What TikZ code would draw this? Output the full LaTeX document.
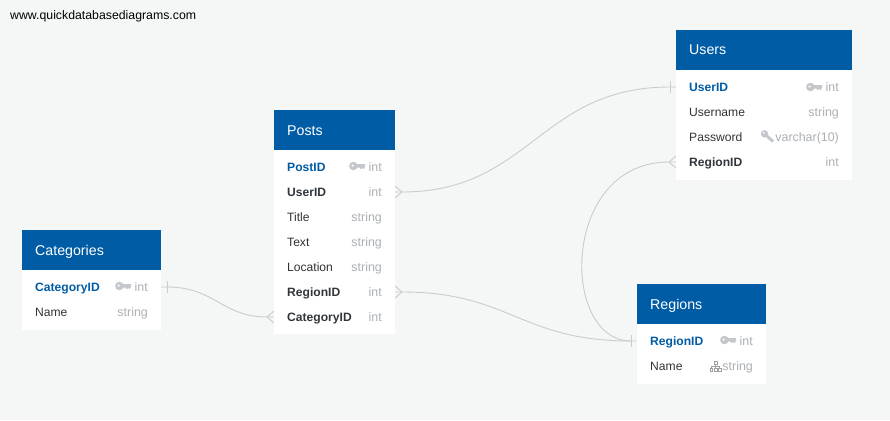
\documentclass[tikz,border=0pt]{standalone}
\usepackage{fontspec}
\setmainfont{Liberation Sans}
\definecolor{bgc}{HTML}{F5F7F7}
\definecolor{hdc}{HTML}{005CA5}
\definecolor{pkc}{HTML}{005CA5}
\definecolor{fkc}{HTML}{30363C}
\definecolor{typec}{HTML}{ABB0B5}
\definecolor{iconc}{HTML}{C4C8CC}
\definecolor{linec}{HTML}{C9CCCB}
\tikzset{
  x=1pt,y=-1pt,
  fs/.style={font=\fontsize{12.1}{14}\selectfont},
  head/.style={fill=hdc,text=white,anchor=north west,inner sep=0pt,outer sep=0pt,align=left},
  tbody/.style={fill=white,anchor=north west,inner sep=0pt,outer sep=0pt},
  fname/.style={fs,anchor=base west,inner sep=0pt,text=black!80},
  fpk/.style={fname,text=pkc,font=\fontsize{12.1}{14}\selectfont\bfseries},
  ffk/.style={fname,text=fkc,font=\fontsize{12.1}{14}\selectfont\bfseries},
  ftype/.style={anchor=base east,inner sep=0pt,text=typec,font=\fontsize{12.4}{14}\selectfont},
  rel/.style={draw=linec,line width=0.9pt},
  foot/.style={draw=linec,line width=0.9pt},
}
\newcommand{\tbl}[6]{% name,x,y,w,bodyh,title
  \node[tbody,minimum width=#4pt,minimum height=#5pt] (#1b) at (#2,#3+40) {};
  \node[head,minimum width=#4pt,minimum height=40pt] (#1h) at (#2,#3) {};
  \node[anchor=base west,inner sep=0pt,text=white,font=\fontsize{14.2}{16}\selectfont] (#1t) at (#2+13,#3+25) {#6};
}
\newcommand{\keyicon}[2]{% at x,y centre
  \fill[iconc,even odd rule] (#1-3.6,#2) circle (4.3) (#1-4.4,#2-0.4) circle (1.4);
  \fill[iconc] (#1-1,#2-2) -- (#1+8,#2-2) -- (#1+8,#2+0.8) -- (#1+6.5,#2+3.2) -- (#1+5.2,#2+1.8) -- (#1+3.8,#2+3.2) -- (#1+2.5,#2+1.6) -- (#1-1,#2+1.6) -- cycle;
}
\newcommand{\fkey}[2]{%
  \begin{scope}[shift={(#1,#2)},rotate=-42]
  \fill[iconc,even odd rule] (-4,0) circle (3.7) (-5.2,0) circle (1.2);
  \fill[iconc] (-1,-1.5) -- (7.5,-1.5) -- (7.5,1.5) -- (-1,1.5) -- cycle;
  \end{scope}
}
\newcommand{\treeicon}[2]{%
  \begin{scope}[shift={(#1,#2)}]
  \draw[iconc!80!black,line width=0.6pt] (-1.7,-5.5) rectangle (1.7,-2.5) (0,-2.5) -- (0,2) (-4.2,2) -- (-4.2,-0.2) -- (4.2,-0.2) -- (4.2,2);
  \draw[iconc!80!black,line width=0.6pt] (-5.5,2.2) rectangle (-3,5) (-1.3,2.2) rectangle (1.3,5) (3,2.2) rectangle (5.5,5);
  \end{scope}
}
\begin{document}
\begin{tikzpicture}
\useasboundingbox[fill=bgc] (0,0) rectangle (890,420);
\node[anchor=base west,inner sep=0pt,font=\fontsize{12.3}{14}\selectfont,text=black] (site) at (10,20) {www.quickdatabasediagrams.com};

% end points
\coordinate (postsUser) at (395,192);
\coordinate (postsUserTip) at (402,192);
\coordinate (usersId) at (676,87);
\coordinate (usersIdBar) at (670,87);
\coordinate (postsRegion) at (395,292);
\coordinate (postsRegionTip) at (402,292);
\coordinate (regionsId) at (637,341);
\coordinate (regionsIdBar) at (631,341);
\coordinate (catId) at (161,287);
\coordinate (catIdBar) at (167,287);
\coordinate (postsCat) at (274,317);
\coordinate (postsCatTip) at (267,317);
\coordinate (usersRegion) at (676,162);
\coordinate (usersRegionTip) at (669,162);

% connectors
\draw[rel] (postsUser) -- (postsUserTip) .. controls (530,192) and (540,87) .. (usersIdBar) -- (usersId);
\draw[rel] (postsRegion) -- (postsRegionTip) .. controls (510,292) and (520,341) .. (regionsIdBar) -- (regionsId);
\draw[rel] (catId) -- (catIdBar) .. controls (215,287) and (222,317) .. (postsCatTip) -- (postsCat);
\draw[rel] (usersRegion) -- (usersRegionTip) .. controls (560,162) and (560,341) .. (regionsIdBar);

% crow feet and bars
\draw[foot] ([yshift=-6]postsUser) -- (postsUserTip) -- ([yshift=6]postsUser);
\draw[foot] ([yshift=-6]postsRegion) -- (postsRegionTip) -- ([yshift=6]postsRegion);
\draw[foot] ([yshift=-6]postsCat) -- (postsCatTip) -- ([yshift=6]postsCat);
\draw[foot] ([yshift=-6]usersRegion) -- (usersRegionTip) -- ([yshift=6]usersRegion);
\draw[foot] ([yshift=-6]usersIdBar) -- ([yshift=6]usersIdBar);
\draw[foot] ([yshift=-6]regionsIdBar) -- ([yshift=6]regionsIdBar);
\draw[foot] ([yshift=-6]catIdBar) -- ([yshift=6]catIdBar);

% tables
\tbl{users}{676}{30}{176}{110}{Users}
\tbl{posts}{274}{110}{121}{184}{Posts}
\tbl{cats}{22}{230}{139}{60}{Categories}
\tbl{regs}{637}{284}{129}{60}{Regions}

% Users
\node[fpk] (u1) at (689,91) {UserID};
\node[ftype] (u1t) at (839,91) {int};
\keyicon{814}{87}
\node[fname] (u2) at (689,116) {Username};
\node[ftype] (u2t) at (839,116) {string};
\node[fname] (u3) at (689,141) {Password};
\node[ftype] (u3t) at (839,141) {varchar(10)};
\fkey{767.5}{136.5}
\node[ffk] (u4) at (689,166) {RegionID};
\node[ftype] (u4t) at (839,166) {int};

% Posts
\node[fpk] (p1) at (287,171) {PostID};
\node[ftype] (p1t) at (382,171) {int};
\keyicon{357}{166}
\node[ffk] (p2) at (287,196) {UserID};
\node[ftype] (p2t) at (382,196) {int};
\node[fname] (p3) at (287,221) {Title};
\node[ftype] (p3t) at (382,221) {string};
\node[fname] (p4) at (287,246) {Text};
\node[ftype] (p4t) at (382,246) {string};
\node[fname] (p5) at (287,271) {Location};
\node[ftype] (p5t) at (382,271) {string};
\node[ffk] (p6) at (287,296) {RegionID};
\node[ftype] (p6t) at (382,296) {int};
\node[ffk] (p7) at (287,321) {CategoryID};
\node[ftype] (p7t) at (382,321) {int};

% Categories
\node[fpk] (c1) at (35,291) {CategoryID};
\node[ftype] (c1t) at (148,291) {int};
\keyicon{123}{286}
\node[fname] (c2) at (35,316) {Name};
\node[ftype] (c2t) at (148,316) {string};

% Regions
\node[fpk] (r1) at (650,345) {RegionID};
\node[ftype] (r1t) at (753,345) {int};
\keyicon{728}{340}
\node[fname] (r2) at (650,370) {Name};
\node[ftype] (r2t) at (753,370) {string};
\treeicon{715.5}{366.5}
\end{tikzpicture}
\end{document}
